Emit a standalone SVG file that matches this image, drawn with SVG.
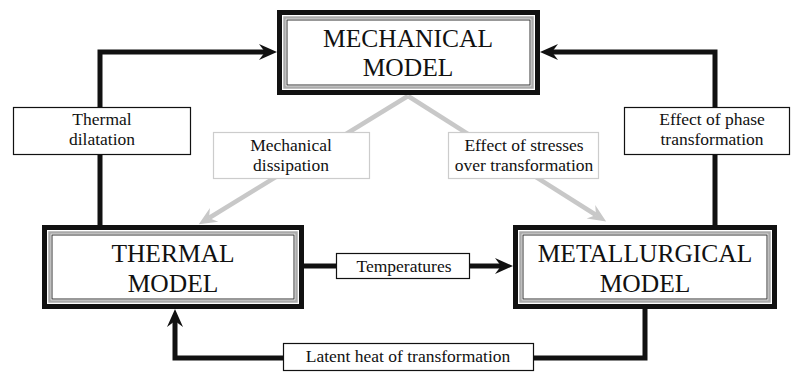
<svg xmlns="http://www.w3.org/2000/svg" width="791" height="372" viewBox="0 0 791 372">
<style>
.title{font-family:"Liberation Serif","Times New Roman",serif;font-size:25.5px;text-anchor:middle;fill:#111}
.lbl{font-family:"Liberation Serif","Times New Roman",serif;font-size:17.5px;text-anchor:middle;fill:#111}
.outer{fill:#fff;stroke:#111;stroke-width:5}
.mid{fill:none;stroke:#aaa;stroke-width:2.5}
.inner{fill:none;stroke:#333;stroke-width:1}
.lbox{fill:#fff;stroke:#111;stroke-width:1.2}
.gbox{fill:#fff;stroke:#ccc;stroke-width:1.2}
.blk{fill:none;stroke:#111;stroke-width:5}
.gry{fill:none;stroke:#c8c8c8;stroke-width:4.5}
</style>
<defs>
<marker id="ab" markerUnits="userSpaceOnUse" markerWidth="24" markerHeight="24" viewBox="-2 -12 24 24" refX="6" refY="0" orient="auto">
<path d="M18,0 L0,-8 L6,0 L0,8 Z" fill="#111"/>
</marker>
<marker id="ag" markerUnits="userSpaceOnUse" markerWidth="24" markerHeight="24" viewBox="-2 -12 24 24" refX="6" refY="0" orient="auto">
<path d="M18,0 L0,-8 L6,0 L0,8 Z" fill="#c8c8c8"/>
</marker>
</defs>
<g id="connectors">
<polyline class="blk" points="100,225 100,52 265,52" marker-end="url(#ab)"/>
<polyline class="blk" points="715,225 715,52 552,52" marker-end="url(#ab)"/>
<line class="blk" x1="304" y1="266" x2="336" y2="266"/>
<line class="blk" x1="470" y1="266" x2="501" y2="266" marker-end="url(#ab)"/>
<polyline class="blk" points="645,309 645,358 534,358"/>
<polyline class="blk" points="283,358 175,358 175,321" marker-end="url(#ab)"/>
<polyline class="gry" points="408,96 209,218" marker-end="url(#ag)"/>
<polyline class="gry" points="408,96 596,215" marker-end="url(#ag)"/>
</g>
<g id="mechanical">
<rect class="outer" x="279.5" y="12.5" width="258" height="80"/>
<rect class="mid" x="284.5" y="17.5" width="248" height="70"/>
<rect class="inner" x="287" y="20" width="243" height="65"/>
<text class="title" x="408" y="47">MECHANICAL</text>
<text class="title" x="408" y="76">MODEL</text>
</g>
<g id="thermal">
<rect class="outer" x="44.5" y="227.5" width="257" height="79"/>
<rect class="mid" x="49.5" y="232.5" width="247" height="69"/>
<rect class="inner" x="52" y="235" width="242" height="64"/>
<text class="title" x="173" y="262">THERMAL</text>
<text class="title" x="173" y="292">MODEL</text>
</g>
<g id="metallurgical">
<rect class="outer" x="515.5" y="227.5" width="259" height="79"/>
<rect class="mid" x="520.5" y="232.5" width="249" height="69"/>
<rect class="inner" x="523" y="235" width="244" height="64"/>
<text class="title" x="645" y="262">METALLURGICAL</text>
<text class="title" x="645" y="292">MODEL</text>
</g>
<g id="label-thermal-dilatation">
<rect class="lbox" x="13.5" y="107.5" width="177" height="47"/>
<text class="lbl" x="102" y="125">Thermal</text>
<text class="lbl" x="102" y="145">dilatation</text>
</g>
<g id="label-phase">
<rect class="lbox" x="624.5" y="107.5" width="165" height="47"/>
<text class="lbl" x="712" y="125">Effect of phase</text>
<text class="lbl" x="712" y="145">transformation</text>
</g>
<g id="label-dissipation">
<rect class="gbox" x="213.5" y="132.5" width="156" height="46"/>
<text class="lbl" x="291" y="151">Mechanical</text>
<text class="lbl" x="291" y="171">dissipation</text>
</g>
<g id="label-stresses">
<rect class="gbox" x="448.5" y="132.5" width="150" height="46"/>
<text class="lbl" x="524" y="151">Effect of stresses</text>
<text class="lbl" x="524" y="171">over transformation</text>
</g>
<g id="label-temperatures">
<rect class="lbox" x="336.5" y="253.5" width="133" height="25"/>
<text class="lbl" x="404" y="272">Temperatures</text>
</g>
<g id="label-latent">
<rect class="lbox" x="283.5" y="343.5" width="250" height="27"/>
<text class="lbl" x="408" y="362">Latent heat of transformation</text>
</g>
</svg>
